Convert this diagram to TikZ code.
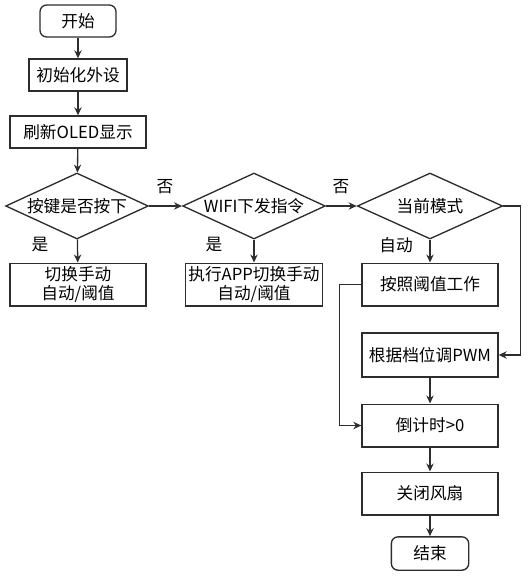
\documentclass[tikz,border=0pt]{standalone}
\usepackage{fontspec}
\setmainfont{Noto Sans CJK SC}
\usepackage{tikz}
\usetikzlibrary{positioning, arrows.meta, shapes, calc}
\definecolor{linegray}{RGB}{45, 45, 45}

\tikzset{
  stepbox/.style={draw=linegray, line width=1pt, minimum width=102pt, minimum height=24pt, inner sep=2pt, align=center, font=\fontsize{12.5pt}{14.5pt}\selectfont},
  termbox/.style={stepbox, rounded corners=5pt},
  choice/.style={draw=linegray, line width=1pt, diamond, aspect=2.17, minimum width=107pt, minimum height=49.5pt, inner sep=0pt, font=\fontsize{12.5pt}{14.5pt}\selectfont},
  flow/.style={draw=linegray, line width=1pt, -{Stealth[length=6pt, width=5.5pt]}},
  tag/.style={font=\fontsize{12.5pt}{14.5pt}\selectfont}
}

\begin{document}
\begin{tikzpicture}[x=0.75pt, y=-0.75pt]
\useasboundingbox (0,0) rectangle (528,578);

\node[termbox, minimum width=57pt] (start) at (78,21) {开始};
\node[stepbox, minimum width=73.5pt] (init) at (78,75) {初始化外设};
\node[stepbox] (oled) at (78,132) {刷新OLED显示};
\node[choice] (key) at (77,206) {按键是否按下};
\node[choice] (wifi) at (254,206) {WIFI下发指令};
\node[choice, minimum width=109pt] (mode) at (430,206) {当前模式};
\node[stepbox, minimum height=32pt] (keyset) at (78,284.5) {切换手动\\自动/阈值};
\node[stepbox, minimum height=32pt] (appset) at (254,284.5) {执行APP切换手动\\自动/阈值};
\node[stepbox, minimum height=32pt] (thres) at (430,284.5) {按照阈值工作};
\node[stepbox, minimum height=33pt] (pwm) at (430,355) {根据档位调PWM};
\node[stepbox, minimum height=32pt] (count) at (430,425.5) {倒计时>0};
\node[stepbox, minimum height=32pt] (fanoff) at (430,493.5) {关闭风扇};
\node[termbox, minimum width=58pt, minimum height=25pt] (stop) at (430,553.5) {结束};

% labels
\node[tag] (no1) at (165,187) {否};
\node[tag] (no2) at (341,187) {否};
\node[tag] (yes1) at (40,245) {是};
\node[tag] (yes2) at (214,245) {是};
\node[tag] (auto) at (396,245) {自动};

% connectors
\draw[flow] (start) -- (init);
\draw[flow] (init) -- (oled);
\draw[flow] (oled) -- (key);
\draw[flow] (key) -- (wifi);
\draw[flow] (wifi) -- (mode);
\draw[flow] (key) -- (keyset);
\draw[flow] (wifi) -- (appset);
\draw[flow] (mode) -- (thres);
\draw[flow] (mode.east) -- ++(17,0) |- (pwm.east);
\draw[flow] (thres.west) -- ++(-22,0) |- (count.west);
\draw[flow] (pwm) -- (count);
\draw[flow] (count) -- (fanoff);
\draw[flow] (fanoff) -- (stop);
\end{tikzpicture}
\end{document}
